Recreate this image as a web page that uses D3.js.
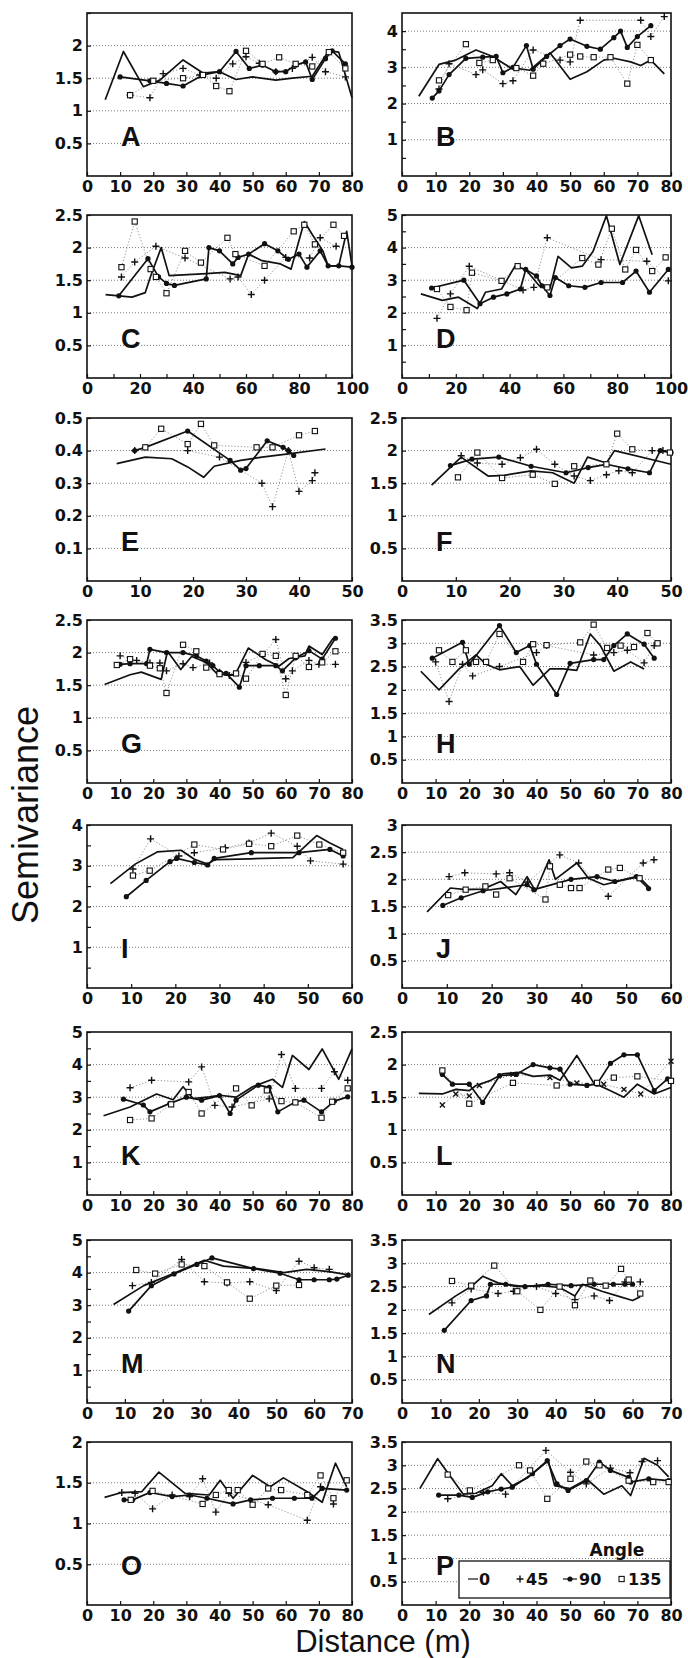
<!DOCTYPE html>
<meta charset="utf-8">
<style>
body { margin: 0; background: #fff; }
svg text { font-family: "DejaVu Sans", sans-serif; fill: #111; }
.axis text { font-weight: bold; font-size: 16px; }
.axis line { stroke: #111; stroke-width: 1.2; }
.grid { stroke: #777; stroke-width: 1; stroke-dasharray: 1,2; }
.title { font-family: "Liberation Sans", Arial, sans-serif !important; }
.letter { font-family: "Liberation Sans", Arial, sans-serif !important; font-size: 27px; font-weight: bold; }
</style>
<svg width="688" height="1658"></svg>
<script src="https://cdn.jsdelivr.net/npm/d3@7"></script>
<script>

// panel setup
var panels = ["A","B","C","D","E","F","G","H","I","J","K","L","M","N","O","P"];
var xMax  = [80, 80, 100, 100, 50, 50, 80, 80, 60, 60, 80, 80, 70, 70, 80, 80];
var xStep = [10, 10, 20, 20, 10, 10, 10, 10, 10, 10, 10, 10, 10, 10, 10, 10];
var yMax  = [2.5, 4.5, 2.5, 5, 0.5, 2.5, 2.5, 3.5, 4, 3, 5, 2.5, 5, 3.5, 2, 3.5];
var yStep = [0.5, 1, 0.5, 1, 0.1, 0.5, 0.5, 0.5, 1, 0.5, 1, 0.5, 1, 0.5, 0.5, 0.5];
var labelTop = [false, false, true, true, true, true, true, true, true, true, true, true, true, true, true, true];
var angles = ["0", "45", "90", "135"];

// each panel: [angle 0, angle 45, angle 90, angle 135], points are [distance, semivariance]
var seriesA = [
  [[5.5,1.17],[11,1.91],[17,1.37],[22,1.47],[29,1.78],[35,1.58],[40,1.6],[45,1.48],[50,1.52],[57,1.47],[62,1.5],[68,1.53],[73,1.92],[76,1.9],[80,1.2]],
  [[13,1.24],[19,1.2],[23,1.57],[29,1.65],[34,1.55],[39,1.5],[44,1.72],[48,1.83],[52,1.73],[57,1.6],[62,1.65],[68,1.82],[72,1.6],[78,1.52]],
  [[10,1.52],[19,1.46],[24,1.42],[29,1.38],[35,1.55],[40,1.6],[45,1.91],[49,1.65],[53,1.7],[57,1.6],[60,1.6],[63,1.7],[66,1.75],[68,1.48],[72,1.8],[74,1.92],[78,1.72]],
  [[13,1.24],[20,1.46],[29,1.5],[35,1.55],[39,1.38],[43,1.3],[48,1.92],[53,1.72],[58,1.82],[63,1.72],[68,1.68],[73,1.9],[78,1.65]]
];
var seriesB = [
  [[5,2.2],[11,3.08],[16,3.2],[22,3.48],[27,3.3],[32,3.0],[38,2.92],[44,3.4],[50,2.67],[55,2.88],[60,3.2],[63,3.25],[68,3.15],[71,3.05],[74,3.2],[78,2.82]],
  [[11,2.4],[14,3.1],[22,2.8],[24,2.93],[30,2.55],[33,2.63],[39,3.48],[47,3.2],[50,3.15],[53,4.3],[71,4.3],[74,3.85],[78,4.4]],
  [[9,2.15],[11,2.35],[14,2.8],[19,3.25],[24,3.28],[28,3.3],[30,2.85],[33,3.0],[37,3.6],[39,2.95],[43,3.3],[47,3.6],[50,3.78],[55,3.58],[59,3.5],[63,3.82],[65,4.0],[67,3.55],[70,3.85],[74,4.15]],
  [[11,2.64],[19,3.64],[23,3.12],[27,3.2],[34,2.98],[39,2.77],[42,3.1],[50,3.35],[53,3.3],[57,3.28],[62,3.28],[67,2.55],[70,3.62],[74,3.2]]
];
var seriesC = [
  [[7,1.28],[12,1.26],[17,1.24],[22,1.31],[24,1.56],[28,2.0],[31,1.57],[45,1.6],[52,1.62],[58,1.57],[61,1.9],[66,1.8],[73,1.75],[77,1.67],[82,2.4],[85,2.2],[89,1.95],[91,1.72],[95,1.72],[98,2.25],[100,1.72]],
  [[13,1.55],[18,1.78],[26,2.02],[37,1.84],[54,1.52],[57,1.55],[62,1.28],[67,1.5],[75,1.85],[84,1.84],[88,2.15],[94,2.02]],
  [[12,1.26],[23,1.83],[27,1.55],[30,1.45],[33,1.42],[45,1.52],[46,2.0],[50,1.95],[55,1.75],[57,1.85],[61,1.9],[67,2.06],[72,1.95],[76,1.82],[80,1.9],[83,1.7],[88,1.95],[91,1.72],[95,1.72],[100,1.7]],
  [[13,1.7],[18,2.4],[24,1.67],[26,1.55],[30,1.3],[37,1.95],[43,1.77],[53,2.15],[56,1.9],[67,1.72],[78,2.25],[82,2.35],[86,2.05],[93,2.35],[97,2.18]]
];
var seriesD = [
  [[7,2.58],[15,2.38],[21,2.48],[28,2.13],[31,2.63],[37,2.73],[42,3.43],[46,3.33],[51,2.83],[55,2.75],[58,3.73],[63,3.38],[67,3.43],[71,3.88],[76,4.98],[81,3.48],[88,4.98],[93,3.78]],
  [[13,1.83],[18,2.58],[25,3.43],[45,2.7],[49,2.78],[54,4.3],[74,3.63],[91,3.58],[99,2.98]],
  [[11,2.76],[23,3.0],[29,2.28],[34,2.48],[39,2.58],[44,2.73],[46,3.33],[50,3.13],[52,2.83],[55,2.53],[57,3.08],[62,2.83],[68,2.78],[74,2.93],[82,2.93],[87,3.28],[92,2.63],[99,3.33]],
  [[13,2.73],[18,2.18],[24,2.08],[26,3.23],[37,2.98],[43,3.43],[54,2.78],[67,3.68],[73,3.48],[78,4.58],[83,3.33],[87,3.93],[93,3.28],[98,3.7]]
];
var seriesE = [
  [[5.6,0.36],[11,0.38],[16,0.375],[19,0.35],[22,0.318],[24,0.352],[29,0.37],[33,0.38],[38,0.39],[45,0.405]],
  [[9,0.4],[19,0.4],[25,0.38],[33,0.3],[35,0.228],[38,0.4],[40,0.275],[42.5,0.308],[43,0.332]],
  [[9,0.4],[11,0.41],[19,0.46],[27,0.37],[29,0.34],[30,0.345],[34,0.43],[37,0.41],[38,0.4],[39,0.385]],
  [[11,0.41],[14,0.467],[19,0.42],[21.5,0.482],[24,0.416],[32,0.41],[35,0.41],[40,0.447],[43,0.46]]
];
var seriesF = [
  [[5.5,1.47],[11,1.9],[16,1.61],[19,1.62],[24,1.69],[28,1.66],[32,1.5],[34.5,1.9],[38,1.81],[39.5,2.0],[50,1.79]],
  [[11,1.92],[14,1.81],[18.6,1.79],[22,1.89],[25,2.02],[28.4,1.79],[32,1.61],[35,1.54],[38,1.63],[40.3,1.69],[42.8,1.66],[46.5,2.0],[48.5,2.0]],
  [[9,1.77],[13,1.87],[18,1.9],[24,1.76],[30.5,1.66],[34.6,1.74],[38,1.79],[42,1.72],[46,1.66],[48,2.0],[50,1.97]],
  [[10.4,1.59],[14,1.97],[18.6,1.58],[24.3,1.63],[28.4,1.49],[32,1.76],[38,1.79],[40,2.26],[42.8,2.02],[49.8,1.97]]
];
var seriesG = [
  [[5.3,1.51],[13,1.66],[16.4,1.7],[22.4,1.59],[24.3,2.02],[28.3,1.74],[31.6,1.94],[36,1.85],[39.5,1.66],[44.7,1.66],[48.7,2.07],[54,1.89],[57.9,1.79],[61,1.91],[65.8,1.95],[67,2.1],[71,1.97],[74.3,2.22]],
  [[10,1.95],[15,1.88],[19,1.84],[22,1.84],[24,1.72],[29,1.83],[32,1.77],[37,1.84],[40,1.7],[43,1.65],[48,1.85],[53,1.97],[57,2.2],[60,1.6],[62,1.72],[67,1.88],[70,1.82],[75,1.82]],
  [[10,1.82],[13,1.83],[18,1.83],[19,2.05],[24,2.0],[29,2.0],[33,1.95],[36,1.87],[38,1.8],[40,1.7],[42,1.68],[46,1.47],[48,1.8],[52,1.8],[57,1.8],[59,1.72],[63,1.92],[67,2.03],[71,1.9],[75,2.22]],
  [[9,1.81],[13,1.9],[19,1.8],[22,1.76],[24,1.38],[29,2.12],[33,2.02],[36,1.77],[40,1.67],[45,1.68],[48,1.6],[53,1.98],[57,1.95],[60,1.35],[63,1.95],[67,1.78],[71,1.85],[75,2.02]]
];
var seriesH = [
  [[5.6,2.4],[11,2.0],[17,2.45],[22,2.75],[25,2.55],[29,2.43],[35,2.5],[39,2.1],[44,2.45],[48,2.45],[52,2.42],[56,3.2],[59,2.95],[63,2.4],[68,2.6],[72,2.45]],
  [[10,2.6],[14,1.75],[18,2.55],[21,2.3],[29,2.5],[40,2.8],[43,2.95],[57,2.75],[63,2.8],[67,2.85],[72,2.58],[75,2.95]],
  [[9,2.68],[18,3.02],[20,2.55],[29,3.38],[34,2.8],[38,2.95],[40,2.55],[46,1.9],[50,2.57],[57,2.65],[60,2.65],[63,2.95],[67,3.2],[72,2.98],[75,2.68]],
  [[11,2.85],[15,2.6],[19,2.85],[22,2.6],[25,2.6],[29,3.2],[36,2.6],[39,2.98],[43,2.96],[53,3.02],[57,3.4],[61,2.9],[65,2.95],[69,2.92],[73,3.22],[76,3.0]]
];
var seriesI = [
  [[5.3,2.56],[10.9,3.04],[15.9,3.34],[21.3,3.38],[24.3,3.16],[27.3,3.04],[29,3.15],[37,3.17],[46.6,3.2],[52,3.74],[55,3.56],[58,3.4]],
  [[10.4,2.92],[14.4,3.66],[20.8,3.24],[24.3,3.32],[31.3,3.44],[36.7,3.56],[41.7,3.8],[47.6,3.48],[50.6,3.12],[58,3.04]],
  [[8.9,2.24],[13.4,2.64],[18.8,3.1],[20.3,3.18],[24.3,3.08],[27.3,3.02],[28.8,3.18],[37.2,3.32],[48,3.32],[55,3.4],[58,3.24]],
  [[10.4,2.76],[14.2,2.88],[24.3,3.52],[30.8,3.4],[36.7,3.54],[41.7,3.48],[47.6,3.74],[52.6,3.52],[58,3.32]]
];
var seriesJ = [
  [[5.6,1.4],[10.8,1.84],[14.2,1.81],[18,1.82],[22,1.96],[25.4,1.72],[27.9,2.05],[29.8,1.78],[32.8,2.36],[34.2,2.0],[39,2.3],[41.6,2.02],[45,1.9],[49,1.98],[52.8,2.05],[55.3,1.84]],
  [[10.5,2.05],[14,2.12],[21,2.1],[24,2.12],[28,1.95],[35.2,2.45],[39.4,2.3],[46,1.69],[53.8,2.3],[56.2,2.36]],
  [[9.1,1.52],[13.2,1.66],[18.1,1.79],[27.9,1.9],[29.4,1.81],[37.7,2.0],[43.5,2.05],[47.5,1.96],[52.3,2.05],[55,1.83]],
  [[10.3,1.71],[14.2,1.81],[18.6,1.87],[21,1.72],[24,2.02],[32,1.63],[33,2.24],[35.2,1.9],[37.7,1.84],[39.6,1.84],[46,2.18],[48.6,2.21],[53,2.02]]
];
var seriesK = [
  [[5,2.43],[13,2.7],[21,3.1],[26,2.92],[29,3.32],[32,2.96],[37,3.01],[40,3.06],[45,3.0],[50,3.32],[56,3.55],[59,3.3],[62,4.28],[67,3.85],[71,4.48],[76,3.55],[80,4.48]],
  [[13,3.29],[19.5,3.52],[30.7,3.47],[34.6,3.93],[38.6,2.75],[43.8,2.7],[55,2.95],[58.7,4.31],[62.9,3.27],[70.8,3.27],[74.7,3.78],[78.7,3.52]],
  [[11,2.94],[17,2.76],[19,2.55],[25,2.81],[30,3.0],[34.6,2.91],[40,3.05],[43.2,2.5],[45,2.91],[51.7,3.37],[55,3.3],[57.6,2.55],[63,2.86],[65.5,2.91],[70.8,2.55],[74.7,2.88],[78.7,3.01]],
  [[13,2.3],[19.5,2.35],[25.4,2.78],[30.7,3.16],[34.6,2.5],[45,3.27],[49.7,2.75],[54.3,3.21],[58.7,2.88],[62.9,2.84],[70.8,2.37],[74,2.86],[78.7,3.27]]
];
var seriesL = [
  [[5,1.56],[12,1.55],[16,1.62],[20,1.6],[22,1.68],[26,1.75],[30,1.86],[35,1.88],[39,1.82],[44,1.84],[47,1.76],[52,2.14],[57,1.72],[62,1.6],[66,1.5],[70,1.7],[75,1.55],[80,1.65]],
  [[12,1.38],[16,1.55],[20,1.52],[23,1.68],[33,1.85],[44,1.8],[52,1.72],[60,1.7],[66,1.62],[71,1.55],[80,2.05]],
  [[12,1.85],[15,1.7],[20,1.7],[24,1.42],[29,1.83],[34,1.85],[39,2.0],[44,1.95],[47,1.93],[50,1.7],[55,1.68],[58,1.7],[62,2.02],[66,2.15],[70,2.15],[75,1.6],[79,1.78]],
  [[12,1.91],[20,1.4],[33,1.72],[46,1.68],[58,1.72],[63,1.8],[70,1.82],[80,1.75]]
];
var seriesM = [
  [[7,3.02],[15,3.6],[23,3.98],[31,4.38],[36,4.2],[45,4.12],[52,4.0],[58,4.1],[64,4.03],[69,3.93]],
  [[12,3.6],[17,3.7],[25,4.4],[31,3.72],[37,3.68],[43,3.72],[50,3.45],[56,4.35],[60,4.15],[64,4.1]],
  [[11,2.82],[17,3.6],[23,3.96],[29,4.25],[33,4.45],[44,4.12],[51,3.98],[56,3.78],[60,3.78],[64,3.78],[66,3.8],[69,3.92]],
  [[13,4.08],[18,3.97],[25,4.25],[31,4.2],[37,3.7],[43,3.2],[50,3.6],[56,3.62]]
];
var seriesN = [
  [[7,1.9],[14,2.3],[18,2.5],[21,2.72],[25,2.58],[30,2.5],[36,2.52],[41,2.48],[45,2.3],[47,2.55],[52,2.4],[56,2.3],[60,2.2],[62,2.28]],
  [[13,2.15],[18,2.45],[25,2.35],[29,2.4],[35,2.5],[40,2.35],[45,2.22],[50,2.3],[54,2.2],[58,2.6],[62,2.6]],
  [[11,1.56],[18,2.2],[22,2.3],[23,2.55],[27,2.55],[32,2.5],[38,2.55],[44,2.52],[50,2.55],[55,2.55],[58,2.55],[60,2.55]],
  [[13,2.62],[18,2.52],[24,2.95],[30,2.4],[36,2.0],[41,2.5],[45,2.1],[49,2.63],[53,2.52],[57,2.88],[59,2.65],[62,2.35]]
];
var seriesO = [
  [[5.3,1.32],[10.5,1.38],[16.5,1.39],[21.7,1.63],[29.6,1.37],[36.9,1.35],[40.2,1.53],[44.1,1.31],[50,1.59],[55.3,1.45],[59.3,1.56],[66.5,1.39],[71,1.26],[75,1.74],[78.4,1.45]],
  [[10.5,1.38],[14.5,1.37],[19.8,1.18],[25.7,1.35],[31,1.33],[34.9,1.55],[38.9,1.14],[42.8,1.37],[54.7,1.23],[66.5,1.04],[70.5,1.45],[74.4,1.24]],
  [[11.2,1.29],[13.8,1.29],[19,1.38],[25.7,1.33],[31,1.35],[36.2,1.31],[44.1,1.24],[49.4,1.29],[56,1.31],[62.6,1.31],[67.9,1.31],[71,1.43],[78.4,1.41]],
  [[13.2,1.29],[19.8,1.4],[34.9,1.24],[38.9,1.35],[42.8,1.41],[45.5,1.41],[50,1.23],[54.7,1.43],[58.6,1.41],[66.5,1.35],[70.5,1.59],[74.4,1.31],[78.4,1.53]]
];
var seriesP = [
  [[5.3,2.5],[10.6,3.14],[14.9,2.71],[18.2,2.38],[22,2.4],[26.8,2.56],[29.5,2.82],[32.8,2.56],[37.5,2.74],[43.5,3.1],[45.4,2.56],[50,2.5],[55,2.7],[60,2.38],[65.4,2.56],[68,2.35],[72,3.15],[76,3.0],[79.3,2.75]],
  [[13.6,2.28],[24.2,2.42],[30.8,2.38],[42.8,3.32],[50.1,2.85],[54.8,2.6],[62,2.94],[67.8,2.84],[71.4,3.08],[76,3.1]],
  [[10.9,2.36],[16.9,2.36],[20.9,2.31],[25.5,2.43],[29.5,2.49],[32.8,2.53],[38.8,2.82],[43.2,3.1],[46.1,2.6],[49.4,2.46],[54.8,2.67],[58.7,3.07],[62,2.89],[67.4,2.74],[68,2.64],[73.4,2.71],[79.3,2.67]],
  [[13.6,2.8],[20.2,2.46],[34.8,3.0],[38.1,2.89],[43.2,2.28],[50.1,2.71],[54.8,3.08],[58.7,3.0],[67.4,2.67],[74.7,2.64],[79.3,2.64]]
];
var allSeries = [seriesA, seriesB, seriesC, seriesD, seriesE, seriesF, seriesG, seriesH,
                 seriesI, seriesJ, seriesK, seriesL, seriesM, seriesN, seriesO, seriesP];

var svg = d3.select("svg");

var rowTop = [13, 215, 418, 620, 825, 1032, 1240, 1442],
    panelH = 163,
    colX = [[87, 352], [402, 671]];

var plus = "M-3.5,0H3.5M0,-3.5V3.5";

function ticksOf(max, step) {
  return d3.range(1, Math.round(max / step) + 1).map(function(k) { return +(k * step).toFixed(3); });
}

panels.forEach(function(name, i) {
  var col = i % 2, row = Math.floor(i / 2);
  var x = d3.scaleLinear().domain([0, xMax[i]]).range(colX[col]);
  var y = d3.scaleLinear().domain([0, yMax[i]]).range([rowTop[row] + panelH, rowTop[row]]);
  var g = svg.append("g");

  var yLab = ticksOf(yMax[i], yStep[i]);
  var yMinor = yStep[i] === 1 ? d3.range(0.5, yMax[i], 1) : [];

  // gridlines
  g.selectAll(".grid").data(yLab.filter(function(v) { return v < yMax[i] - 1e-6; }))
    .enter().append("line")
      .attr("class", "grid")
      .attr("x1", x(0)).attr("x2", x(xMax[i]))
      .attr("y1", function(v) { return y(v); }).attr("y2", function(v) { return y(v); });

  // axes
  var xa = g.append("g").attr("class", "axis")
      .attr("transform", "translate(0," + y(0) + ")")
      .call(d3.axisBottom(x)
        .tickValues(d3.range(0, xMax[i] + 1, 10))
        .tickSize(-4).tickPadding(5)
        .tickFormat(function(d) { return d % xStep[i] === 0 ? d : ""; }));
  xa.select(".domain").remove();

  var ya = g.append("g").attr("class", "axis")
      .attr("transform", "translate(" + x(0) + ",0)")
      .call(d3.axisLeft(y)
        .tickValues(yLab.concat(yMinor))
        .tickSize(-4).tickPadding(4)
        .tickFormat(function(d) {
          if (yMinor.indexOf(d) >= 0) return "";
          if (d >= yMax[i] - 1e-6 && !labelTop[i]) return "";
          return d;
        }));
  ya.select(".domain").remove();

  // frame
  g.append("rect")
      .attr("x", x(0)).attr("y", y(yMax[i]))
      .attr("width", x(xMax[i]) - x(0)).attr("height", y(0) - y(yMax[i]))
      .attr("fill", "none").attr("stroke", "#111").attr("stroke-width", 1.6);

  var line = d3.line().x(function(d) { return x(d[0]); }).y(function(d) { return y(d[1]); });
  var s = allSeries[i];

  // dotted connectors for 45 and 135
  [1, 3].forEach(function(k) {
    g.append("path").attr("d", line(s[k]))
      .attr("fill", "none").attr("stroke", "#888").attr("stroke-width", 0.9)
      .attr("stroke-dasharray", "1.2,2");
  });
  // solid lines for 0 and 90
  [0, 2].forEach(function(k) {
    g.append("path").attr("d", line(s[k]))
      .attr("fill", "none").attr("stroke", "#111").attr("stroke-width", 1.7)
      .attr("stroke-linejoin", "round");
  });

  g.selectAll(".m90").data(s[2]).enter().append("circle")
      .attr("cx", function(d) { return x(d[0]); }).attr("cy", function(d) { return y(d[1]); })
      .attr("r", 2.6).attr("fill", "#111");

  g.selectAll(".m45").data(s[1]).enter().append("path")
      .attr("d", plus)
      .attr("transform", function(d) {
        return "translate(" + x(d[0]) + "," + y(d[1]) + ")" + (name === "L" ? " rotate(45)" : "");
      })
      .attr("stroke", "#111").attr("stroke-width", 1.4);

  g.selectAll(".m135").data(s[3]).enter().append("rect")
      .attr("x", function(d) { return x(d[0]) - 2.6; }).attr("y", function(d) { return y(d[1]) - 2.6; })
      .attr("width", 5.2).attr("height", 5.2)
      .attr("fill", "#fff").attr("stroke", "#111").attr("stroke-width", 1.1);

  // panel letter
  g.append("text").attr("class", "letter")
      .attr("x", x(0) + 34).attr("y", y(0) - 30)
      .text(name);

  if (name === "P") {
    var bx = x(xMax[i]) - 212, by = y(0) - 44;
    var lg = g.append("g").attr("class", "axis");
    lg.append("rect").attr("x", bx).attr("y", by).attr("width", 211).attr("height", 37)
      .attr("fill", "#fff").attr("stroke", "#111").attr("stroke-width", 1.3);
    lg.append("text").attr("x", bx + 158).attr("y", by - 5).attr("text-anchor", "middle")
      .style("font-size", "17px").text("Angle");
    var ly = by + 24, lc = ly - 6;
    lg.append("line").attr("x1", bx + 9).attr("x2", bx + 19).attr("y1", lc).attr("y2", lc)
      .attr("stroke", "#111").attr("stroke-width", 1.7);
    lg.append("text").attr("x", bx + 20).attr("y", ly).text(angles[0]);
    lg.append("path").attr("d", plus).attr("transform", "translate(" + (bx + 61) + "," + lc + ")")
      .attr("stroke", "#111").attr("stroke-width", 1.4);
    lg.append("text").attr("x", bx + 67).attr("y", ly).text(angles[1]);
    lg.append("line").attr("x1", bx + 104).attr("x2", bx + 118).attr("y1", lc).attr("y2", lc)
      .attr("stroke", "#111").attr("stroke-width", 1.7);
    lg.append("circle").attr("cx", bx + 111).attr("cy", lc).attr("r", 2.6).attr("fill", "#111");
    lg.append("text").attr("x", bx + 120).attr("y", ly).text(angles[2]);
    lg.append("rect").attr("x", bx + 160).attr("y", lc - 2.6).attr("width", 5.2).attr("height", 5.2)
      .attr("fill", "#fff").attr("stroke", "#111").attr("stroke-width", 1.1);
    lg.append("text").attr("x", bx + 169).attr("y", ly).text(angles[3]);
  }
});

svg.append("text").attr("class", "title")
    .attr("transform", "translate(38,815) rotate(-90)")
    .attr("text-anchor", "middle")
    .style("font-size", "36px")
    .text("Semivariance");

svg.append("text").attr("class", "title")
    .attr("x", 383).attr("y", 1652)
    .attr("text-anchor", "middle")
    .style("font-size", "31px")
    .text("Distance (m)");

</script>
